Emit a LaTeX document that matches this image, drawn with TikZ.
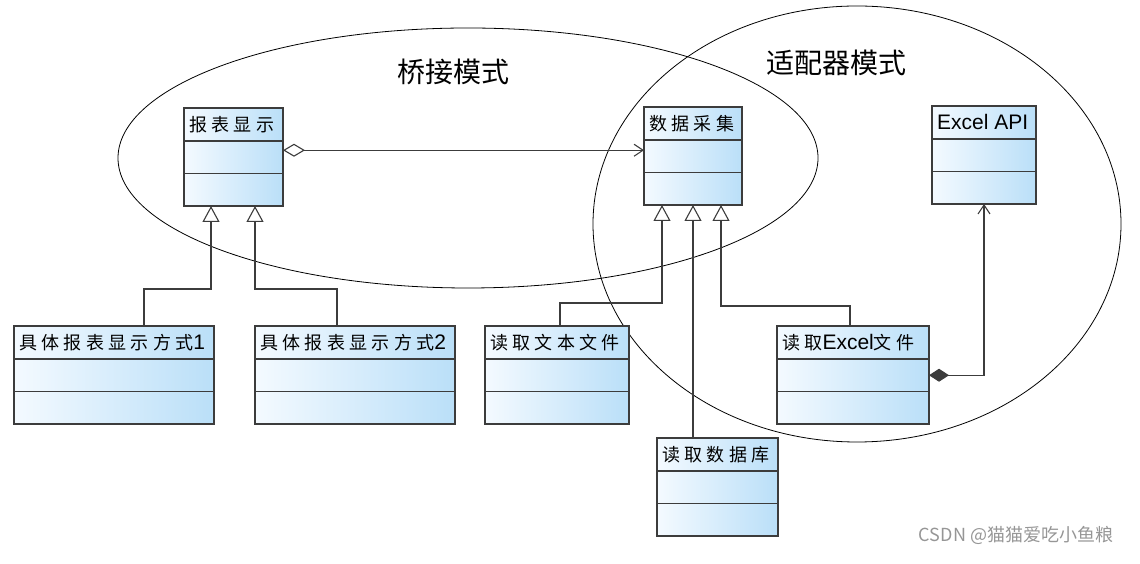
\documentclass[tikz,border=0pt]{standalone}
\usepackage{fontspec}
\setmainfont{Liberation Sans}
\newfontfamily\zhfont[LetterSpace=24]{Noto Sans CJK SC}
\newfontfamily\zhlabel{Noto Sans CJK SC}
\usetikzlibrary{arrows.meta, positioning}

\definecolor{clsblue}{RGB}{186,223,248}
\definecolor{clslight}{RGB}{244,250,255}
\definecolor{clsline}{RGB}{60,60,60}
\definecolor{markgray}{RGB}{150,150,150}

\newcommand{\zhtext}[1]{{\fontsize{18}{20}\selectfont\zhfont #1}}

% class box: head with its name, then two empty compartments
\newcommand{\umlclass}[4]{%
  \node[classhead, minimum width=#3, anchor=north west] (#1) at (#2) {};
  \node[classname, anchor=west] (#1-name) at (#1.west) {#4};
  \node[classpart, minimum width=#3, below=0pt of #1] (#1-m) {};
  \node[classpart, minimum width=#3, below=0pt of #1-m] (#1-b) {};
}

\begin{document}
\begin{tikzpicture}[x=1pt, y=1pt,
    classhead/.style={draw=clsline, line width=1.2pt, outer sep=0pt, inner sep=0pt,
      minimum height=33pt, left color=clslight, right color=clsblue},
    classpart/.style={classhead, minimum height=32.5pt},
    classname/.style={inner xsep=5pt, font=\fontsize{21}{24}\selectfont},
    pattern label/.style={font=\zhlabel\fontsize{28}{32}\selectfont},
    link/.style={draw=clsline, line width=1.1pt},
    generalize/.style={link, -{Triangle[open, length=16pt, width=17pt, fill=white]}},
    aggregate/.style={link, {Diamond[open, length=22pt, width=13pt, fill=white]}-{Straight Barb[length=9pt, width=12pt]}},
    compose/.style={link, {Diamond[length=20pt, width=13pt]}-{Straight Barb[length=9pt, width=12pt]}}]

  \useasboundingbox (0,0) rectangle (1140,564);

  % the two patterns
  \draw[line width=0.8pt] (468,406) ellipse [x radius=350, y radius=130];
  \draw[line width=0.8pt] (857,340) ellipse [x radius=264, y radius=218];
  \node[pattern label] (bridge) at (453,492) {桥接模式};
  \node[pattern label] (adapter) at (836,501) {适配器模式};

  % classes
  \umlclass{report}{184,456}{99pt}{\zhtext{报表显示}}
  \umlclass{collect}{644,457}{98pt}{\zhtext{数据采集}}
  \umlclass{excelapi}{932,458}{104pt}{Excel API}
  \umlclass{concrete1}{14,238}{200pt}{\zhtext{具体报表显示方式}1}
  \umlclass{concrete2}{255,238}{200pt}{\zhtext{具体报表显示方式}2}
  \umlclass{textfile}{485,238}{144pt}{\zhtext{读取文本文件}}
  \umlclass{excelfile}{777,238}{152pt}{\zhtext{读取}Excel\zhtext{文件}}
  \umlclass{database}{657,126}{121pt}{\zhtext{读取数据库}}

  % inheritance
  \draw[generalize] ([xshift=30pt]concrete1.north) -- ++(0,37) -| ([xshift=-22.5pt]report-b.south);
  \draw[generalize] ([xshift=-18pt]concrete2.north) -- ++(0,37) -| ([xshift=21.5pt]report-b.south);
  \draw[generalize] ([xshift=3pt]textfile.north) -- ++(0,23) -| ([xshift=-31pt]collect-b.south);
  \draw[generalize] (database.north -| collect-b.south) -- (collect-b.south);
  \draw[generalize] ([xshift=-3pt]excelfile.north) -- ++(0,20) -| ([xshift=28pt]collect-b.south);

  % bridge and adaptee links
  \draw[aggregate] ([yshift=7pt]report-m.east) -- ([yshift=7pt]report-m.east -| collect-m.west);
  \draw[compose] (excelfile-m.east) -| (excelapi-b.south);

  \node[font=\zhlabel\fontsize{18}{20}\selectfont, text=markgray] (mark) at (1016,29) {CSDN @猫猫爱吃小鱼粮};
\end{tikzpicture}
\end{document}
